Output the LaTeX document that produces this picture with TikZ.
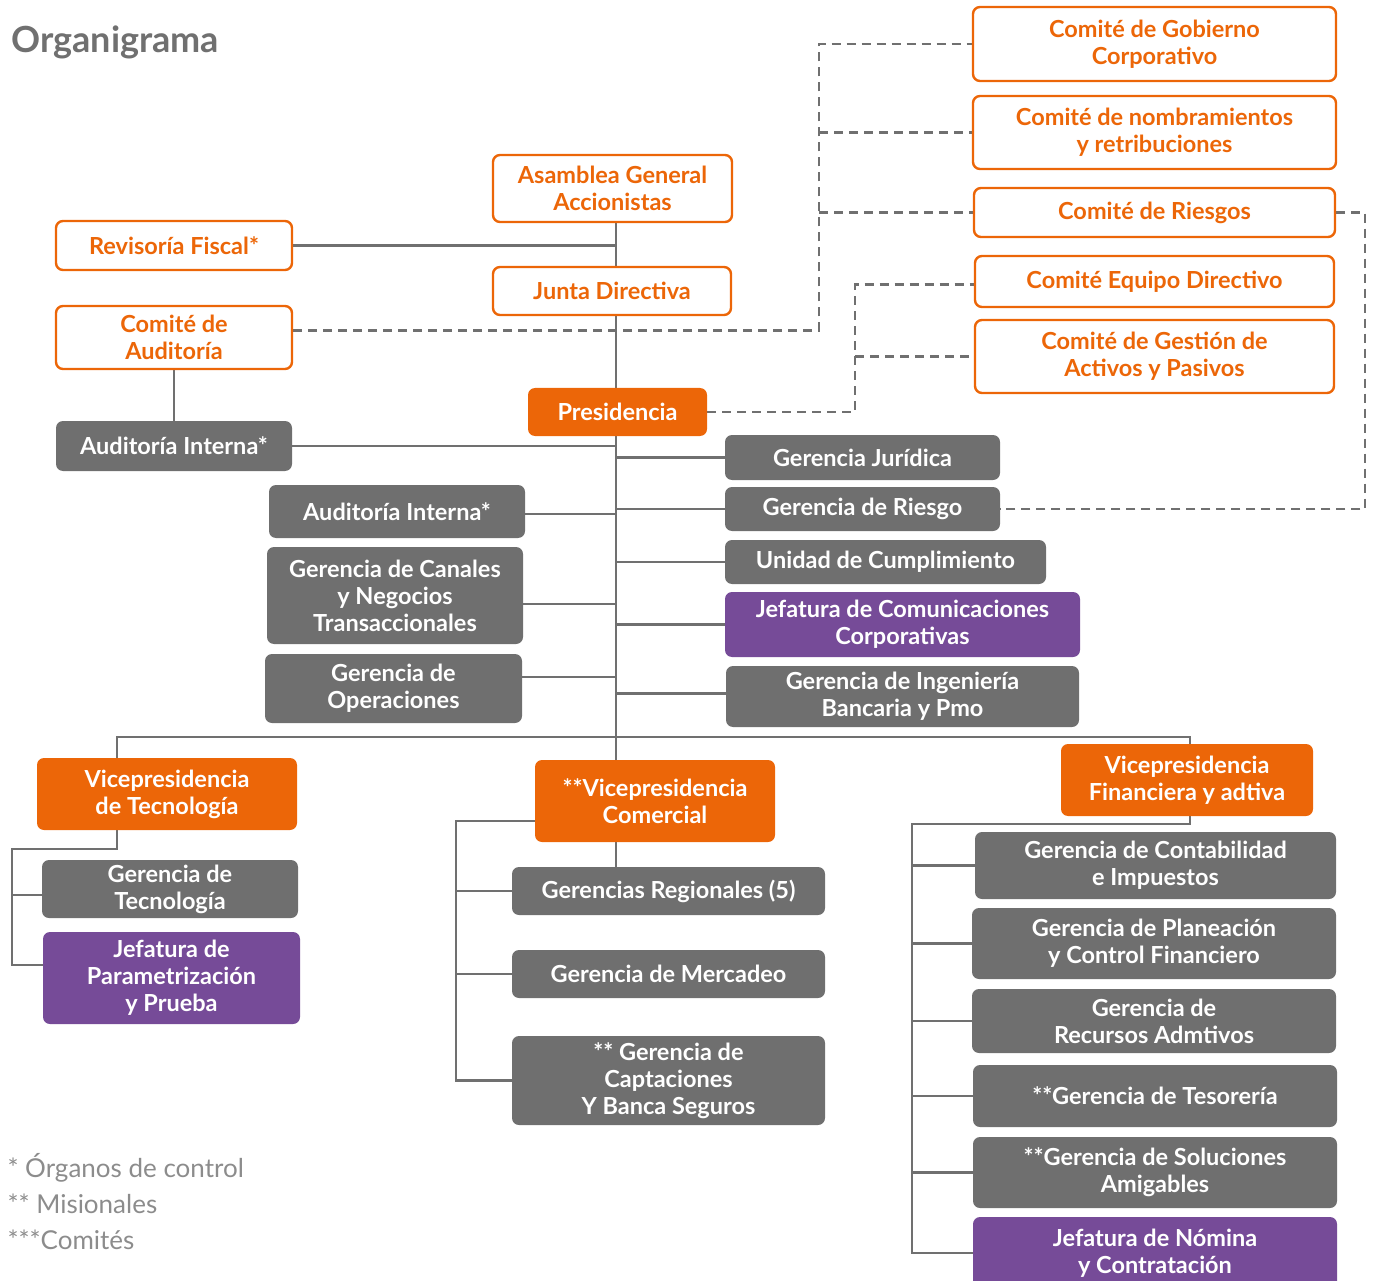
\documentclass[tikz,border=0pt]{standalone}
\usepackage{fontspec}
\setmainfont{Lato}
\usetikzlibrary{backgrounds}
\definecolor{org}{RGB}{236,102,8}
\definecolor{gbx}{RGB}{111,111,111}
\definecolor{pur}{RGB}{118,75,152}
\definecolor{lnc}{RGB}{112,112,112}
\definecolor{leg}{RGB}{140,140,140}
\newcommand{\boxfont}{\fontsize{23.5}{27}\selectfont\bfseries}
\tikzset{
 box/.style={rounded corners=7pt, inner sep=0pt, align=center, font=\boxfont},
 obox/.style={box, draw=org, line width=2.4pt, fill=white, text=org},
 fbox/.style={box, fill=org, text=white},
 gbox/.style={box, fill=gbx, text=white},
 pbox/.style={box, fill=pur, text=white},
 ln/.style={draw=lnc, line width=2.6pt},
 dsh/.style={draw=lnc, line width=2.6pt, dash pattern=on 9pt off 6pt},
 sz/.style 2 args={minimum width=#1pt, minimum height=#2pt},
}
\begin{document}
\begin{tikzpicture}[x=1pt,y=-1pt]
\useasboundingbox (0,0) rectangle (1377,1281);
\node[anchor=west, text=lnc, font=\fontsize{36}{40}\selectfont\bfseries] (title) at (8,42) {Organigrama};
% committees
\node[obox, sz={363}{74}] (cg) at (1154.5,44) {Comité de Gobierno\\Corporativo};
\node[obox, sz={363}{73}] (cn) at (1154.5,132.5) {Comité de nombramientos\\y retribuciones};
\node[obox, sz={361}{49}] (cr) at (1154.5,212.5) {Comité de Riesgos};
\node[obox, sz={359}{51}] (ce) at (1154.5,281.5) {Comité Equipo Directivo};
\node[obox, sz={359}{73}] (cgap) at (1154.5,356.5) {Comité de Gestión de\\Activos y Pasivos};
\node[obox, sz={239}{67}] (as) at (612.5,188.5) {Asamblea General\\Accionistas};
\node[obox, sz={238}{48}] (jd) at (612,291) {Junta Directiva};
\node[obox, sz={236}{49}] (rf) at (174,245.5) {Revisoría Fiscal*};
\node[obox, sz={236}{63}] (ca) at (174,337.5) {Comité de\\Auditoría};
% orange filled
\node[fbox, sz={179}{48}] (pr) at (617.5,412) {Presidencia};
\node[fbox, sz={260}{72}] (vpt) at (167,794) {Vicepresidencia\\de Tecnología};
\node[fbox, sz={240}{82}] (vpc) at (655,801) {**Vicepresidencia\\Comercial};
\node[fbox, sz={252}{72}] (vpf) at (1187,780) {Vicepresidencia\\Financiera y adtiva};
% gray
\node[gbox, sz={236}{50}] (ai1) at (174,446) {Auditoría Interna*};
\node[gbox, sz={256}{53}] (ai2) at (397,511.5) {Auditoría Interna*};
\node[gbox, sz={256}{97}] (gc) at (395,595.5) {Gerencia de Canales\\y Negocios\\Transaccionales};
\node[gbox, sz={257}{69}] (go) at (393.5,688.5) {Gerencia de\\Operaciones};
\node[gbox, sz={275}{45}] (gj) at (862.5,457.5) {Gerencia Jurídica};
\node[gbox, sz={275}{44}] (grg) at (862.5,509) {Gerencia de Riesgo};
\node[gbox, sz={321}{44}] (uc) at (885.5,562) {Unidad de Cumplimiento};
\node[pbox, sz={355}{65}] (jc) at (902.5,624.5) {Jefatura de Comunicaciones\\Corporativas};
\node[gbox, sz={353}{61}] (gi) at (902.5,696.5) {Gerencia de Ingeniería\\Bancaria y Pmo};
\node[gbox, sz={256}{58}] (gt) at (170,889) {Gerencia de\\Tecnología};
\node[pbox, sz={257}{92}] (jp) at (171.5,978) {Jefatura de\\Parametrización\\y Prueba};
\node[gbox, sz={313}{48}] (gr) at (668.5,891) {Gerencias Regionales (5)};
\node[gbox, sz={313}{48}] (gm) at (668.5,974) {Gerencia de Mercadeo};
\node[gbox, sz={313}{89}] (gcap) at (668.5,1080.5) {** Gerencia de\\Captaciones\\Y Banca Seguros};
\node[gbox, sz={361}{67}] (gcon) at (1155.5,865.5) {Gerencia de Contabilidad\\e Impuestos};
\node[gbox, sz={364}{71}] (gpl) at (1154,943.5) {Gerencia de Planeación\\y Control Financiero};
\node[gbox, sz={364}{64}] (grec) at (1154,1021) {Gerencia de\\Recursos Admtivos};
\node[gbox, sz={364}{62}] (gtes) at (1155,1096) {**Gerencia de Tesorería};
\node[gbox, sz={364}{71}] (gsol) at (1155,1172.5) {**Gerencia de Soluciones\\Amigables};
\node[pbox, sz={364}{72}] (jn) at (1155,1253) {Jefatura de Nómina\\y Contratación};
% legend
\node[anchor=west, text=leg, font=\fontsize{26}{30}\selectfont] (l1) at (4,1168) {* Órganos de control};
\node[anchor=west, text=leg, font=\fontsize{26}{30}\selectfont] (l2) at (4,1204) {** Misionales};
\node[anchor=west, text=leg, font=\fontsize{26}{30}\selectfont] (l3) at (4,1240) {***Comités};

\begin{pgfonlayer}{background}
\coordinate (tk) at (616,0);
\draw[ln] (as.south -| tk) -- (vpc.north -| tk);
\draw[ln] (vpc.south -| tk) -- (gr.north -| tk);
\draw[ln] (rf.east) -- (rf.east -| tk);
\draw[ln] (ca.south) -- (ai1.north);
\draw[ln] (ai1.east) -- (ai1.east -| tk);
\draw[ln] (gj.west -| tk) -- (gj.west);
\draw[ln] (grg.west -| tk) -- (grg.west);
\draw[ln] (uc.west -| tk) -- (uc.west);
\draw[ln] (jc.west -| tk) -- (jc.west);
\draw[ln] ([yshift=3pt]gi.west -| tk) -- ([yshift=3pt]gi.west);
\draw[ln] ([yshift=-2.5pt]ai2.east) -- ([yshift=-2.5pt]ai2.east -| tk);
\draw[ln] ([yshift=-8.5pt]gc.east) -- ([yshift=-8.5pt]gc.east -| tk);
\draw[ln] ([yshift=11.5pt]go.east) -- ([yshift=11.5pt]go.east -| tk);
% bus
\coordinate (bl) at (117,737);
\coordinate (br) at (1190,737);
\draw[ln] (vpt.north -| bl) -- (bl) -- (br) -- (vpf.north -| br);
% VP tecnologia
\coordinate (tl) at (12,849);
\draw[ln] (vpt.south -| bl) |- (tl) |- ([yshift=13pt]jp.west);
\draw[ln] ([yshift=-6pt]tl |- gt.west) -- ([yshift=-6pt]gt.west);
% VP comercial
\coordinate (cl) at (456,0);
\draw[ln] ([yshift=-20pt]vpc.west) -| (cl |- gcap.west) -- (gcap.west);
\draw[ln] (cl |- gr.west) -- (gr.west);
\draw[ln] (cl |- gm.west) -- (gm.west);
% VP financiera
\coordinate (fl) at (912,824);
\draw[ln] (vpf.south -| br) |- (fl) |- (jn.west);
\foreach \n in {gcon,gpl,grec,gtes,gsol}{\draw[ln] (fl |- \n.west) -- (\n.west);}
% dashed
\coordinate (d1) at (819,0);
\draw[dsh] ([yshift=7pt]ca.east) -| (d1 |- cg.west) -- (cg.west);
\draw[dsh] (d1 |- cn.west) -- (cn.west);
\draw[dsh] (d1 |- cr.west) -- (cr.west);
\coordinate (d2) at (855,0);
\draw[dsh] (pr.east) -| ([yshift=-3pt]d2 |- ce.west) -- ([yshift=-3pt]ce.west);
\draw[dsh] (d2 |- cgap.west) -- (cgap.west);
\coordinate (d3) at (1365,0);
\draw[dsh] (cr.east) -| (d3 |- grg.east) -- (grg.east);
\end{pgfonlayer}
\end{tikzpicture}
\end{document}
